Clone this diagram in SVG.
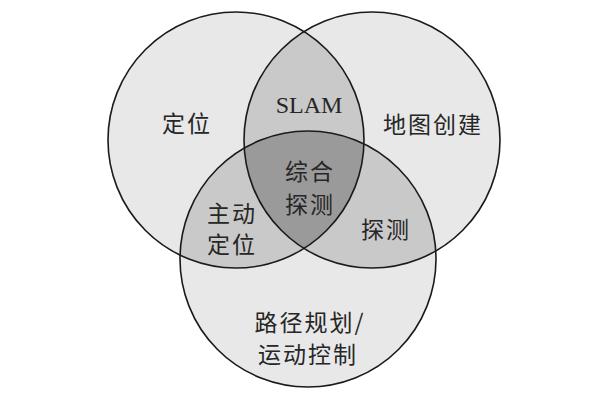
<svg xmlns="http://www.w3.org/2000/svg" width="600" height="400" viewBox="0 0 600 400">
<style>
.cjk{font-family:"Noto Sans CJK SC","Noto Sans",sans-serif;font-size:23px;fill:#262626;text-anchor:middle;dominant-baseline:central;letter-spacing:2px}
.lat{font-family:"Liberation Serif",serif;font-size:24px;fill:#262626;text-anchor:middle}
.ring{fill:none;stroke:#1a1a1a;stroke-width:1.6}
</style>
<defs>
<clipPath id="cA"><circle cx="236" cy="140" r="128"/></clipPath>
<clipPath id="cB"><circle cx="372" cy="140" r="128"/></clipPath>
<clipPath id="cC"><circle cx="308" cy="259" r="128"/></clipPath>
</defs>
<rect width="600" height="400" fill="#fff"/>
<g id="fills">
<circle cx="236" cy="140" r="128" fill="#e8e8e8"/>
<circle cx="372" cy="140" r="128" fill="#e8e8e8"/>
<circle cx="308" cy="259" r="128" fill="#e8e8e8"/>
<circle cx="372" cy="140" r="128" fill="#c9c9c9" clip-path="url(#cA)"/>
<circle cx="308" cy="259" r="128" fill="#c9c9c9" clip-path="url(#cA)"/>
<circle cx="308" cy="259" r="128" fill="#c9c9c9" clip-path="url(#cB)"/>
<g clip-path="url(#cA)"><circle cx="308" cy="259" r="128" fill="#9a9a9a" clip-path="url(#cB)"/></g>
</g>
<g id="circle-localization">
<circle class="ring" cx="236" cy="140" r="128"/>
<text class="cjk" x="187" y="122">定位</text>
</g>
<g id="circle-mapping">
<circle class="ring" cx="372" cy="140" r="128"/>
<text class="cjk" x="433" y="123">地图创建</text>
</g>
<g id="circle-planning">
<circle class="ring" cx="308" cy="259" r="128"/>
<text class="cjk" x="310" y="321">路径规划/</text>
<text class="cjk" x="308" y="353">运动控制</text>
</g>
<g id="region-slam"><text class="lat" x="309" y="113">SLAM</text></g>
<g id="region-integrated">
<text class="cjk" x="310" y="170">综合</text>
<text class="cjk" x="310" y="203">探测</text>
</g>
<g id="region-active">
<text class="cjk" x="232" y="212">主动</text>
<text class="cjk" x="232" y="243">定位</text>
</g>
<g id="region-exploration"><text class="cjk" x="386" y="228">探测</text></g>
<g id="connectors"/>
</svg>
